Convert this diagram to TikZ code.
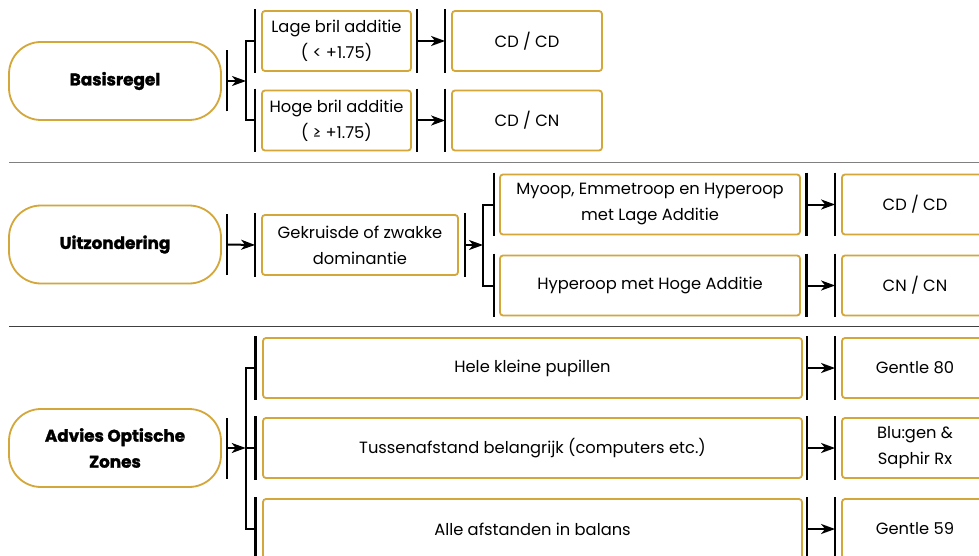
\documentclass[tikz,border=0pt]{standalone}
\usepackage{fontspec}
\setmainfont{Poppins}
\newfontfamily\titlefont[FakeBold=1.6]{Poppins Bold}
\usetikzlibrary{arrows.meta}
\definecolor{gold}{RGB}{212,167,58}
\definecolor{sepA}{RGB}{128,128,128}
\definecolor{sepB}{RGB}{64,64,64}
\tikzset{
  pill/.style={draw=gold,line width=1.8pt,rounded corners=32pt,minimum width=212pt,minimum height=78pt,inner sep=0pt,align=center,font=\fontsize{16.8}{26}\titlefont},
  box/.style={draw=gold,line width=1.8pt,rounded corners=3pt,minimum height=60pt,inner sep=0pt,align=center,font=\fontsize{16.3}{26}\selectfont},
  barline/.style={line width=2.4pt,black},
  link/.style={line width=2pt,black},
  arr/.style={line width=2pt,black,-{Stealth[length=14pt,width=10pt,inset=4pt]}},
}
\begin{document}
\begin{tikzpicture}[x=1pt,y=-1pt]
\useasboundingbox (0,0) rectangle (979,556);
\clip (0,0) rectangle (979,556);
\fill[white] (0,0) rectangle (979,556);
% separators
\draw[sepA,line width=1.3pt] (9,162.7) -- (979,162.7);
\draw[sepB,line width=1.3pt] (9,326.6) -- (979,326.6);
% ---------- row 1
\node[pill] (bas) at (115,81) {Basisregel};
\node[box,minimum width=149pt] (lage) at (336.5,41) {Lage bril additie\\( < +1.75)};
\node[box,minimum width=149pt] (hoge) at (336.5,120.5) {Hoge bril additie\\( ≥ +1.75)};
\node[box,minimum width=150pt] (cdcd) at (527,41) {CD / CD};
\node[box,minimum width=150pt] (cdcn) at (527,120.5) {CD / CN};
\coordinate (b1) at (246,81);
\draw[barline] ([xshift=5pt,yshift=-30.5pt]bas.east) -- ([xshift=5pt,yshift=30.5pt]bas.east);
\draw[arr] ([xshift=5pt]bas.east) -- (b1);
\draw[link] ([xshift=-6pt]lage.west) -| (b1) |- ([xshift=-6pt]hoge.west);
\foreach \n in {lage,hoge,cdcd,cdcn}{
  \draw[barline] ([shift={(-6pt,1pt)}]\n.north west) -- ([shift={(-6pt,-1pt)}]\n.south west);}
\foreach \n in {lage,hoge}{
  \draw[barline] ([shift={(5pt,1pt)}]\n.north east) -- ([shift={(5pt,-1pt)}]\n.south east);}
\draw[arr] ([xshift=5pt]lage.east) -- ([xshift=-6pt]cdcd.west);
\draw[arr] ([xshift=5pt]hoge.east) -- ([xshift=-6pt]cdcn.west);
% ---------- row 2
\node[pill] (uit) at (115,244.5) {Uitzondering};
\node[box,minimum width=196pt] (gek) at (360,245) {Gekruisde of zwakke\\dominantie};
\node[box,minimum width=300pt] (myo) at (650,204.5) {Myoop, Emmetroop en Hyperoop\\met Lage Additie};
\node[box,minimum width=300pt] (hyp) at (650,285.5) {Hyperoop met Hoge Additie};
\node[box,minimum width=146pt] (cdcd2) at (915,204.5) {CD / CD};
\node[box,minimum width=146pt] (cncn) at (915,285.5) {CN / CN};
\draw[barline] ([xshift=5pt,yshift=-30.5pt]uit.east) -- ([xshift=5pt,yshift=30.5pt]uit.east);
\draw[arr] ([xshift=5pt]uit.east) -- ([xshift=-6pt]gek.west);
\coordinate (b2) at (483,245);
\draw[arr] ([xshift=6pt]gek.east) -- (b2);
\draw[link] ([xshift=-5pt]myo.west) -| (b2) |- ([xshift=-5pt]hyp.west);
\foreach \n in {gek}{
  \draw[barline] ([shift={(-6pt,1pt)}]\n.north west) -- ([shift={(-6pt,-1pt)}]\n.south west);
  \draw[barline] ([shift={(6pt,1pt)}]\n.north east) -- ([shift={(6pt,-1pt)}]\n.south east);}
\foreach \n in {myo,hyp}{
  \draw[barline] ([shift={(-5pt,1pt)}]\n.north west) -- ([shift={(-5pt,-1pt)}]\n.south west);
  \draw[barline] ([shift={(5.7pt,1pt)}]\n.north east) -- ([shift={(5.7pt,-1pt)}]\n.south east);}
\foreach \n in {cdcd2,cncn}{
  \draw[barline] ([shift={(-6pt,1pt)}]\n.north west) -- ([shift={(-6pt,-1pt)}]\n.south west);}
\draw[arr] ([xshift=5.7pt]myo.east) -- ([xshift=-6pt]cdcd2.west);
\draw[arr] ([xshift=5.7pt]hyp.east) -- ([xshift=-6pt]cncn.west);
% ---------- row 3
\node[pill] (adv) at (115,448) {Advies Optische\\Zones};
\node[box,minimum width=539pt] (hele) at (532.5,368) {Hele kleine pupillen};
\node[box,minimum width=539pt] (tus) at (532.5,448) {Tussenafstand belangrijk (computers etc.)};
\node[box,minimum width=539pt] (alle) at (532.5,529) {Alle afstanden in balans};
\node[box,minimum width=146pt] (g80) at (915,368) {Gentle 80};
\node[box,minimum width=146pt] (blu) at (915,448) {Blu:gen \&\\Saphir Rx};
\node[box,minimum width=146pt] (g59) at (915,529) {Gentle 59};
\draw[barline] ([xshift=5pt,yshift=-30.5pt]adv.east) -- ([xshift=5pt,yshift=30.5pt]adv.east);
\coordinate (b3) at (245.7,448);
\draw[arr] ([xshift=5pt]adv.east) -- (b3);
\draw[link] ([xshift=-6.5pt]hele.west) -| (b3) |- ([xshift=-6.5pt]alle.west);
\draw[link] (b3) -- ([xshift=-6.5pt]tus.west);
\foreach \n in {hele,tus,alle}{
  \draw[barline] ([shift={(-6.5pt,1pt)}]\n.north west) -- ([shift={(-6.5pt,-1pt)}]\n.south west);
  \draw[barline] ([shift={(4pt,1pt)}]\n.north east) -- ([shift={(4pt,-1pt)}]\n.south east);}
\foreach \n in {g80,blu,g59}{
  \draw[barline] ([shift={(-6pt,1pt)}]\n.north west) -- ([shift={(-6pt,-1pt)}]\n.south west);}
\draw[arr] ([xshift=4pt]hele.east) -- ([xshift=-6pt]g80.west);
\draw[arr] ([xshift=4pt]tus.east) -- ([xshift=-6pt]blu.west);
\draw[arr] ([xshift=4pt]alle.east) -- ([xshift=-6pt]g59.west);
\end{tikzpicture}
\end{document}
